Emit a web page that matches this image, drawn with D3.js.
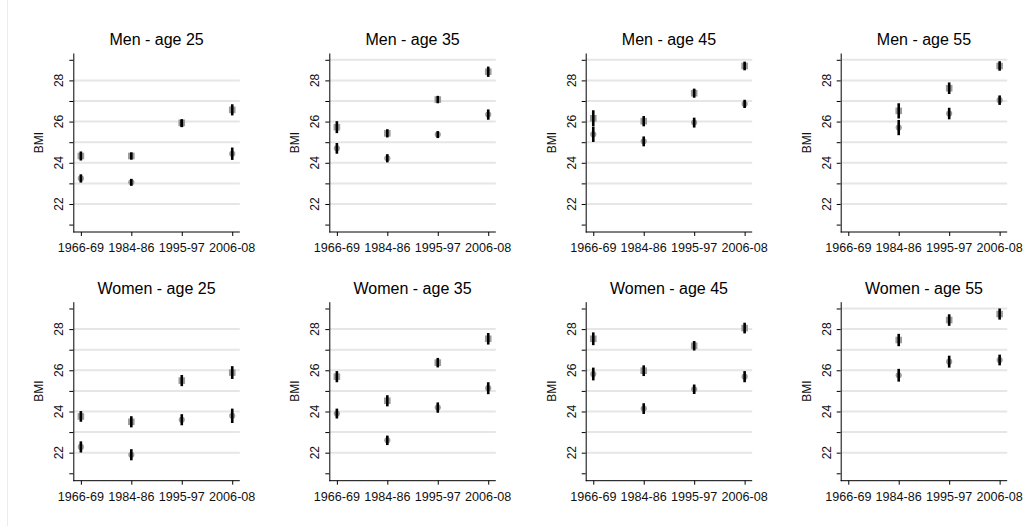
<!DOCTYPE html>
<html>
<head>
<meta charset="utf-8">
<script src="https://cdn.jsdelivr.net/npm/d3@7"></script>
<style>
  html, body { margin: 0; padding: 0; background: #fff; }
  svg { display: block; font-family: "Liberation Sans", Arial, sans-serif; }
</style>
</head>
<body>
<svg id="chart" width="1029" height="526"></svg>
<script>
// Survey periods on the x axis
const periods = ["1966-69", "1984-86", "1995-97", "2006-08"];

// Panel titles, row by row
const panelTitles = [
  "Men - age 25", "Men - age 35", "Men - age 45", "Men - age 55",
  "Women - age 25", "Women - age 35", "Women - age 45", "Women - age 55"
];

// Upper series (square markers): mean BMI per period, null = no data
const squareMean = [
  [24.33, 24.33, 25.94, 26.57],
  [25.73, 25.43, 27.07, 28.42],
  [26.16, 26.02, 27.38, 28.70],
  [null, 26.52, 27.62, 28.70],
  [23.76, 23.50, 25.50, 25.89],
  [25.69, 24.52, 26.37, 27.53],
  [27.53, 25.98, 27.19, 28.05],
  [null, 27.47, 28.44, 28.73]
];
// Half-width of the 95% confidence interval
const squareErr = [
  [0.22, 0.18, 0.18, 0.27],
  [0.29, 0.20, 0.18, 0.25],
  [0.39, 0.25, 0.22, 0.21],
  [null, 0.37, 0.28, 0.23],
  [0.26, 0.27, 0.27, 0.31],
  [0.27, 0.27, 0.23, 0.28],
  [0.31, 0.26, 0.23, 0.26],
  [null, 0.30, 0.28, 0.27]
];

// Lower series (circle markers)
const circleMean = [
  [23.24, 23.05, 25.90, 24.44],
  [24.70, 24.22, 25.37, 26.34],
  [25.38, 25.04, 25.95, 26.86],
  [null, 25.71, 26.39, 27.04],
  [22.28, 21.90, 23.60, 23.79],
  [23.90, 22.60, 24.19, 25.13],
  [25.82, 24.14, 25.08, 25.69],
  [null, 25.76, 26.42, 26.50]
];
const circleErr = [
  [0.20, 0.17, 0.17, 0.30],
  [0.26, 0.20, 0.17, 0.25],
  [0.37, 0.24, 0.24, 0.20],
  [null, 0.37, 0.28, 0.23],
  [0.27, 0.27, 0.27, 0.35],
  [0.24, 0.23, 0.25, 0.29],
  [0.31, 0.26, 0.23, 0.27],
  [null, 0.31, 0.29, 0.26]
];

// y axis ticks
const yTicks = [21, 22, 23, 24, 25, 26, 27, 28, 29];
const yLabelTicks = [22, 24, 26, 28];

const svg = d3.select("#chart");

// faint frame edge on the left
svg.append("line")
  .attr("x1", 7.5).attr("x2", 7.5).attr("y1", 0).attr("y2", 526)
  .attr("stroke", "#ececec").attr("stroke-width", 1);

const colX = [73.3, 329.3, 585.7, 840.7];
const rowY = [53, 301.7];
const plotW = 166.5, plotH = 179;

const y = d3.scaleLinear().domain([20.64, 29.33]).range([plotH, 0]);
const x = d3.scalePoint().domain(periods).range([0, plotW]).padding(0.15);

panelTitles.forEach((title, i) => {
  const g = svg.append("g")
    .attr("transform", `translate(${colX[i % 4]},${rowY[Math.floor(i / 4)]})`);

  const upperMax = d3.max(squareMean[i].map((m, k) => m == null ? null : m + squareErr[i][k]));
  const gridVals = yTicks.filter(v => v >= 22 && (v < 29 || upperMax > 28.5));

  // horizontal grid
  g.append("g").selectAll("line").data(gridVals).join("line")
    .attr("x1", 0).attr("x2", plotW)
    .attr("y1", d => y(d)).attr("y2", d => y(d))
    .attr("stroke", "#e6e6e6").attr("stroke-width", 2);

  // y axis
  const ya = g.append("g").call(
    d3.axisLeft(y).tickValues(yTicks).tickFormat("").tickSize(4).tickSizeOuter(0));
  ya.select(".domain").attr("stroke", "#000");
  ya.selectAll(".tick line").attr("stroke", "#000");

  g.append("g").selectAll("text").data(yLabelTicks).join("text")
    .attr("transform", d => `translate(-10,${y(d)}) rotate(-90)`)
    .attr("text-anchor", "middle")
    .attr("font-size", 12)
    .attr("fill", "#111")
    .text(d => d);

  g.append("text")
    .attr("transform", `translate(-30,${plotH / 2}) rotate(-90)`)
    .attr("text-anchor", "middle")
    .attr("font-size", 12)
    .attr("fill", "#111")
    .text("BMI");

  // x axis
  const xa = g.append("g").attr("transform", `translate(0,${plotH})`)
    .call(d3.axisBottom(x).tickSize(4).tickSizeOuter(0).tickFormat(""));
  xa.select(".domain").attr("stroke", "#000").attr("d", `M0,0H${plotW}`);
  xa.selectAll(".tick line").attr("stroke", "#000");

  g.append("g").selectAll("text").data(periods).join("text")
    .attr("x", d => x(d)).attr("y", plotH + 20)
    .attr("text-anchor", "middle")
    .attr("font-size", 12.6)
    .attr("fill", "#111")
    .text(d => d);

  // title
  g.append("text")
    .attr("x", plotW / 2).attr("y", -8)
    .attr("text-anchor", "middle")
    .attr("font-size", 16)
    .attr("font-weight", 400)
    .attr("fill", "#000")
    .text(title);

  const sq = periods.map((p, k) => ({ p, m: squareMean[i][k], e: squareErr[i][k] })).filter(d => d.m != null);
  const ci = periods.map((p, k) => ({ p, m: circleMean[i][k], e: circleErr[i][k] })).filter(d => d.m != null);

  // markers
  g.append("g").selectAll("rect").data(sq).join("rect")
    .attr("x", d => x(d.p) - 3.3).attr("y", d => y(d.m) - 3.3)
    .attr("width", 6.6).attr("height", 6.6)
    .attr("fill", "#9c9c9c");
  g.append("g").selectAll("circle").data(ci).join("circle")
    .attr("cx", d => x(d.p)).attr("cy", d => y(d.m)).attr("r", 3.1)
    .attr("fill", "#9c9c9c");

  // confidence intervals
  g.append("g").selectAll("line").data(sq.concat(ci)).join("line")
    .attr("x1", d => x(d.p)).attr("x2", d => x(d.p))
    .attr("y1", d => y(d.m - d.e)).attr("y2", d => y(d.m + d.e))
    .attr("stroke", "#000").attr("stroke-width", 2.6);
});
</script>
</body>
</html>
